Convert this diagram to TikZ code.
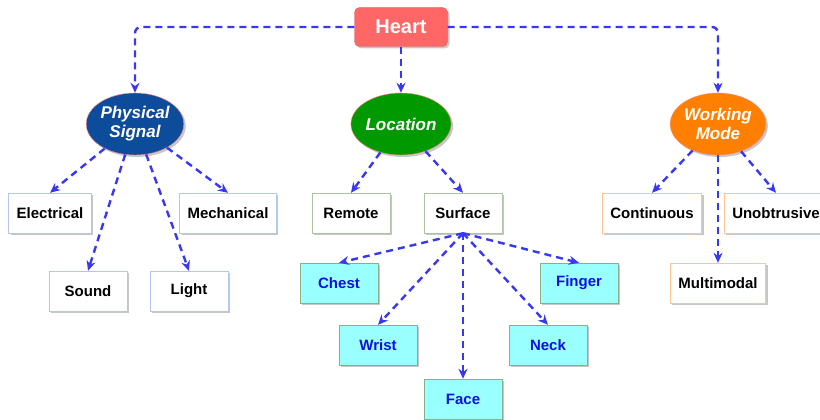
\documentclass[tikz,border=0pt]{standalone}
\usepackage{fontspec}
\setmainfont{Liberation Sans}
\usetikzlibrary{shapes.geometric, arrows.meta, shadows}

\definecolor{linkblue}{HTML}{3838F2}
\definecolor{heartred}{HTML}{FF6666}
\definecolor{psblue}{HTML}{0C4C9A}
\definecolor{locgreen}{HTML}{009A00}
\definecolor{wmorange}{HTML}{FF8000}
\definecolor{psborder}{HTML}{B4C6EE}
\definecolor{locborder}{HTML}{A8C4A0}
\definecolor{wmborder}{HTML}{FFC496}
\definecolor{spotfill}{HTML}{99FFFF}
\definecolor{spotborder}{HTML}{88B088}
\definecolor{spottext}{HTML}{1010DD}

\tikzset{
  soft shadow/.style={drop shadow={shadow xshift=2pt, shadow yshift=-2pt, fill=black!22, opacity=1}},
  root/.style={rectangle, rounded corners=5pt, fill=heartred, draw=heartred!85!black, text=white,
    minimum width=93pt, minimum height=39pt, font=\fontsize{20}{22}\selectfont\bfseries, soft shadow},
  topic/.style={ellipse, draw=red!45, fill=#1, text=white, minimum width=95pt, minimum height=62pt,
    inner sep=0pt, align=center, font=\fontsize{17}{19}\selectfont\bfseries\itshape, soft shadow},
  leaf/.style={rectangle, draw=#1, fill=white, minimum width=78pt, minimum height=40pt, inner xsep=8pt,
    font=\fontsize{15}{18}\selectfont\bfseries, soft shadow},
  leaf/.default=black,
  spot/.style={leaf=spotborder, fill=spotfill, text=spottext},
  link/.style={draw=linkblue, line width=2.4pt, dash pattern=on 7pt off 5pt,
    -{Stealth[length=10pt, width=9pt]}},
}

\begin{document}
\begin{tikzpicture}[x=1pt, y=-1pt]
\useasboundingbox (0,0) rectangle (820,420);

% Root
\node[root] (heart) at (401,27) {Heart};

% Second level
\node[topic=psblue] (signal) at (135,124) {Physical\\Signal};
\node[topic=locgreen] (location) at (401,124) {Location};
\node[topic=wmorange] (mode) at (718,124) {Working\\Mode};

% Physical signal leaves
\node[leaf=psborder] (electrical) at (50,213) {Electrical};
\node[leaf=psborder] (mechanical) at (228,213) {Mechanical};
\node[leaf=psborder] (sound) at (88,291) {Sound};
\node[leaf=psborder] (light) at (189,291) {Light};

% Location leaves
\node[leaf=locborder] (remote) at (351,213) {Remote};
\node[leaf=locborder] (surface) at (463,213) {Surface};

% Surface spots
\node[spot] (chest) at (339,283) {Chest};
\node[spot] (finger) at (579,283) {Finger};
\node[spot] (wrist) at (378,345) {Wrist};
\node[spot] (neck) at (548,345) {Neck};
\node[spot] (face) at (463,399) {Face};

% Working mode leaves
\node[leaf=wmborder] (continuous) at (652,213) {Continuous};
\node[leaf=wmborder, minimum width=100pt] (unobtrusive) at (776,213) {Unobtrusive};
\node[leaf=wmborder] (multimodal) at (718,283) {Multimodal};

% Connectors
\draw[link, rounded corners=6pt] (heart.west) -| (signal.north);
\draw[link] (heart) -- (location);
\draw[link, rounded corners=6pt] (heart.east) -| (mode.north);

\foreach \n in {electrical, mechanical, sound, light}
  \draw[link] (signal) -- (\n.north);

\foreach \n in {remote, surface}
  \draw[link] (location) -- (\n.north);

\foreach \n in {chest, finger, wrist, neck, face}
  \draw[link] (surface.south) -- (\n.north);

\foreach \n in {continuous, unobtrusive, multimodal}
  \draw[link] (mode) -- (\n.north);

\end{tikzpicture}
\end{document}
